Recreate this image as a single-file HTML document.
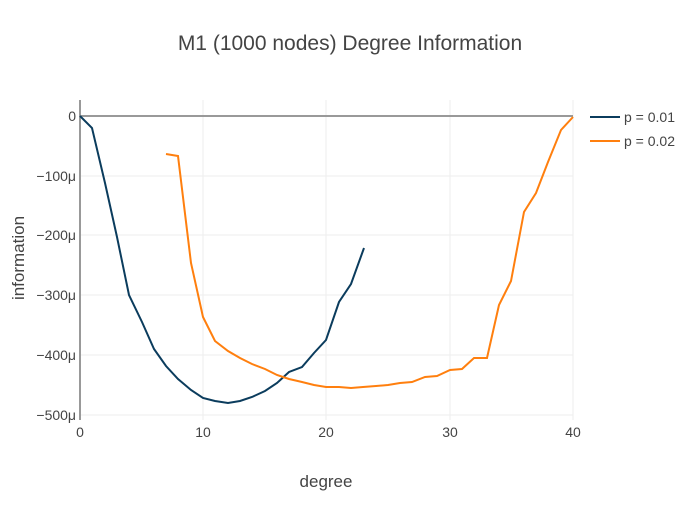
<!DOCTYPE html>
<html><head><meta charset="utf-8"><style>body{margin:0;background:#fff}</style></head><body>
<svg width="700" height="500" xmlns="http://www.w3.org/2000/svg" font-family="'Liberation Sans', sans-serif">
<rect width="700" height="500" fill="#fff"/>
<g stroke="#eee" stroke-width="1">
<line x1="203" y1="100" x2="203" y2="420"/><line x1="326" y1="100" x2="326" y2="420"/><line x1="450" y1="100" x2="450" y2="420"/><line x1="573" y1="100" x2="573" y2="420"/>
<line x1="80" y1="176" x2="573" y2="176"/><line x1="80" y1="235" x2="573" y2="235"/><line x1="80" y1="295" x2="573" y2="295"/><line x1="80" y1="355" x2="573" y2="355"/><line x1="80" y1="415" x2="573" y2="415"/>
</g>
<line x1="80" y1="116" x2="573" y2="116" stroke="#999" stroke-width="2"/>
<line x1="80" y1="100" x2="80" y2="420" stroke="#999" stroke-width="2"/>
<polyline fill="none" stroke="#0b3c5d" stroke-width="2" points="80,116 92,128 105,183 117,237 129,295 142,322 154,349 166,366 178,379 191,390 203,398 215,401 228,403 240,401 252,397 265,391 277,383 289,372 302,367 314,353 326,340 339,302 351,284 364,248"/>
<polyline fill="none" stroke="#ff7f0e" stroke-width="2" points="166,154 178,156 191,263 203,317 215,341 228,351 240,358 252,364 265,369 277,375 289,379 302,382 314,385 326,387 339,387 351,388 363,387 376,386 388,385 400,383 412,382 425,377 437,376 450,370 462,369 474,358 487,358 499,305 511,281 524,212 536,193 548,162 561,130 573,117"/>
<g fill="#444" font-size="14" text-anchor="end">
<text x="76" y="121">0</text><text x="76" y="181">−100μ</text><text x="76" y="240">−200μ</text><text x="76" y="300">−300μ</text><text x="76" y="360">−400μ</text><text x="76" y="420">−500μ</text>
</g>
<g fill="#444" font-size="14" text-anchor="middle">
<text x="80" y="437">0</text><text x="203" y="437">10</text><text x="326" y="437">20</text><text x="450" y="437">30</text><text x="573" y="437">40</text>
<text x="326" y="487" font-size="17">degree</text>
<text x="350" y="50" font-size="21">M1 (1000 nodes) Degree Information</text>
<text transform="translate(24,258) rotate(-90)" font-size="17">information</text>
</g>
<line x1="590" y1="117" x2="620" y2="117" stroke="#0b3c5d" stroke-width="2"/>
<line x1="590" y1="141" x2="620" y2="141" stroke="#ff7f0e" stroke-width="2"/>
<g fill="#444" font-size="14"><text x="624" y="122">p = 0.01</text><text x="624" y="146">p = 0.02</text></g>
</svg>
</body></html>
